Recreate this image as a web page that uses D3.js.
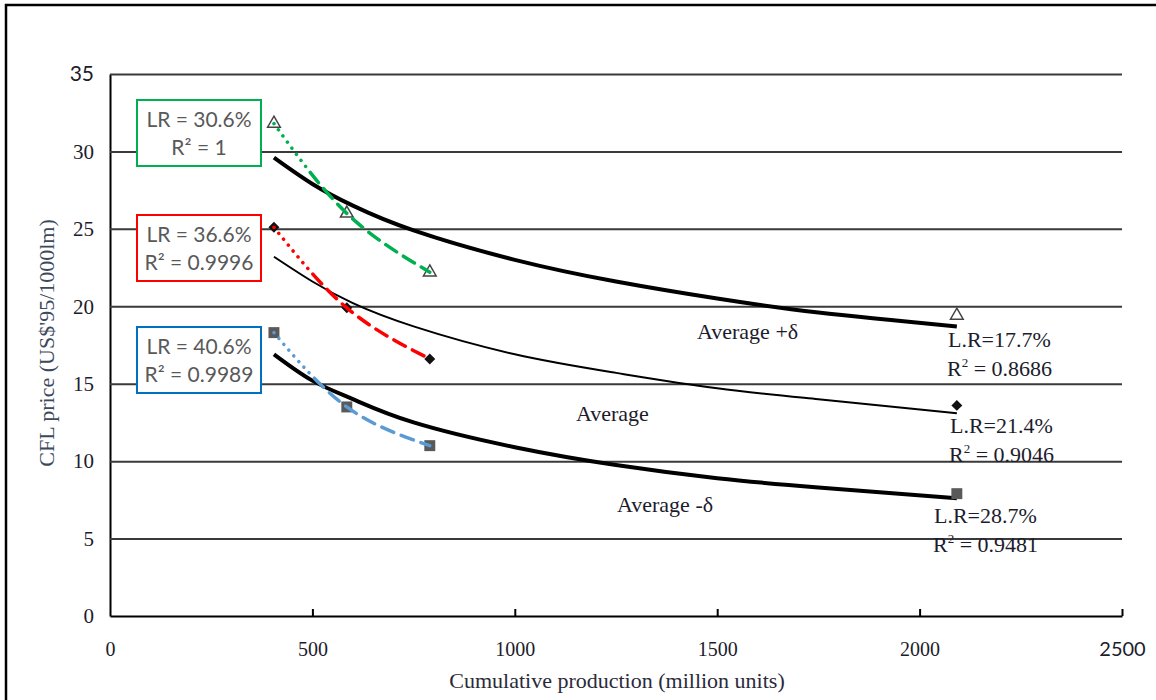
<!DOCTYPE html>
<html>
<head>
<meta charset="utf-8">
<script src="https://cdn.jsdelivr.net/npm/d3@7"></script>
<style>
  body { margin: 0; background: #fff; }
</style>
</head>
<body>
<script>
// data
const prodX = [405, 585, 790, 2092];
const plusDelta = [31.8, 26.0, 22.2, 19.4];
const average = [25.1, 19.9, 16.6, 13.6];
const minusDelta = [18.3, 13.5, 11.0, 7.9];

// fitted experience curves
const fitX = [405, 500, 600, 750, 1000, 1250, 1500, 1750, 2092];
const fitPlus = [29.6, 27.9, 26.5, 24.9, 23.0, 21.6, 20.5, 19.6, 18.7];
const fitAvg = [23.2, 21.6, 20.2, 18.7, 16.9, 15.7, 14.7, 14.0, 13.1];
const fitMinus = [16.9, 15.2, 14.0, 12.5, 10.9, 9.75, 8.9, 8.3, 7.6];

const xTicks = [0, 500, 1000, 1500, 2000, 2500];
const yTicks = [0, 5, 10, 15, 20, 25, 30, 35];

const earlyLabels = [
  {lr: "LR = 30.6%", r2: "R\u00b2 = 1", color: "#00b050"},
  {lr: "LR = 36.6%", r2: "R\u00b2 = 0.9996", color: "#ff0000"},
  {lr: "LR = 40.6%", r2: "R\u00b2 = 0.9989", color: "#0070c0"}
];
const lineColors = ["#00b050", "#ff0000", "#5b9bd5"];
const fitLabels = [
  ["L.R=17.7%", "0.8686"],
  ["L.R=21.4%", "0.9046"],
  ["L.R=28.7%", "0.9481"]
];

var w = 1156, h = 700;
var serif = "'Liberation Serif', 'DejaVu Serif', serif";
var sans = "Lato, 'Open Sans', sans-serif";

var svg = d3.select("body").append("svg")
  .attr("width", w)
  .attr("height", h);

// outer frame
svg.append("rect")
  .attr("x", 6).attr("y", 5)
  .attr("width", w + 20).attr("height", h + 20)
  .attr("fill", "none").attr("stroke", "#000").attr("stroke-width", 2.5);

var xScale = d3.scaleLinear().domain([0, 2500]).range([110, 1122]);
var yScale = d3.scaleLinear().domain([0, 35]).range([616, 74]);

// y axis with gridlines
var yAxis = d3.axisLeft(yScale).tickValues(yTicks)
  .tickSizeInner(-(1122 - 110)).tickSizeOuter(0).tickPadding(16)
  .tickFormat(d3.format("d"));
var gy = svg.append("g")
  .attr("transform", "translate(110,0)")
  .call(yAxis);
gy.select(".domain").attr("stroke", "#000").attr("stroke-width", 2);
gy.selectAll(".tick line").attr("stroke", "#3a3a3a").attr("stroke-width", 2)
  .filter(d => d == 0).remove();
gy.selectAll(".tick text")
  .style("font-family", d => d == 35 ? sans : serif)
  .style("font-size", "21px")
  .attr("fill", "#1c1c2c");

// x axis
var xAxis = d3.axisBottom(xScale).tickValues(xTicks)
  .tickSizeInner(-7).tickSizeOuter(0).tickPadding(26)
  .tickFormat(d3.format("d"));
var gx = svg.append("g")
  .attr("transform", "translate(0,616)")
  .call(xAxis);
gx.select(".domain").attr("stroke", "#000").attr("stroke-width", 2);
gx.selectAll(".tick line").attr("stroke", "#000").attr("stroke-width", 2)
  .filter(d => d == 0).remove();
gx.selectAll(".tick text")
  .style("font-family", d => d == 2500 ? sans : serif)
  .style("font-size", "20px")
  .attr("fill", "#1c1c2c");

// axis titles
svg.append("text")
  .attr("x", 617).attr("y", 688)
  .attr("text-anchor", "middle")
  .style("font-family", serif)
  .style("font-size", "22px")
  .attr("fill", "#2a2a3a")
  .text("Cumulative production (million units)");

svg.append("text")
  .attr("transform", "translate(54,343) rotate(-90)")
  .attr("text-anchor", "middle")
  .style("font-family", serif)
  .style("font-size", "22px")
  .attr("fill", "#3c4a5c")
  .text("CFL price (US$'95/1000lm)");

// fitted black curves
var fitLine = d3.line()
  .x(d => xScale(d[0]))
  .y(d => yScale(d[1]))
  .curve(d3.curveNatural);

[[fitPlus, 4], [fitAvg, 2], [fitMinus, 4]].forEach(function(f) {
  svg.append("path")
    .datum(fitX.map((x, i) => [x, f[0][i]]))
    .attr("d", fitLine)
    .attr("fill", "none")
    .attr("stroke", "#000")
    .attr("stroke-width", f[1]);
});

// markers
var series = [plusDelta, average, minusDelta];

svg.selectAll(".tri")
  .data(prodX.map((x, i) => [x, plusDelta[i]]))
  .enter().append("path")
  .attr("transform", d => "translate(" + xScale(d[0]) + "," + yScale(d[1]) + ")")
  .attr("d", d3.symbol(d3.symbolTriangle, 70))
  .attr("fill", "#fff").attr("stroke", "#444").attr("stroke-width", 1.5);

svg.selectAll(".dia")
  .data(prodX.map((x, i) => [x, average[i]]))
  .enter().append("path")
  .attr("transform", d => "translate(" + xScale(d[0]) + "," + yScale(d[1]) + ") rotate(45)")
  .attr("d", d3.symbol(d3.symbolSquare, 60))
  .attr("fill", "#111");

svg.selectAll(".sq")
  .data(prodX.map((x, i) => [x, minusDelta[i]]))
  .enter().append("path")
  .attr("transform", d => "translate(" + xScale(d[0]) + "," + yScale(d[1]) + ")")
  .attr("d", d3.symbol(d3.symbolSquare, 120))
  .attr("fill", "#595959");

// early-stage coloured fits (first three points)
var earlyLine = d3.line()
  .x(d => xScale(d[0]))
  .y(d => yScale(d[1]))
  .curve(d3.curveNatural);

series.forEach(function(s, k) {
  var p = svg.append("path")
    .datum(prodX.slice(0, 3).map((x, i) => [x, s[i]]))
    .attr("d", earlyLine)
    .attr("fill", "none")
    .attr("stroke", lineColors[k])
    .attr("stroke-width", 3.5)
    .attr("stroke-linecap", "round");
  var len = p.node().getTotalLength();
  var dash = [], run = 0;
  while (run < 55) { dash.push(0.1, 7.5); run += 7.6; }
  while (run < len + 20) { dash.push(13, 8); run += 21; }
  p.attr("stroke-dasharray", dash.join(","));
});

// boxed LR labels
var boxY = [100, 215, 327];
earlyLabels.forEach(function(b, i) {
  var g = svg.append("g").attr("transform", "translate(137," + boxY[i] + ")");
  g.append("rect")
    .attr("width", 124).attr("height", 66)
    .attr("fill", "#fff")
    .attr("stroke", b.color).attr("stroke-width", 2);
  g.selectAll("text")
    .data([b.lr, b.r2])
    .enter().append("text")
    .attr("x", 62).attr("y", (d, j) => 27 + j * 28)
    .attr("text-anchor", "middle")
    .style("font-family", sans)
    .style("font-size", "21px")
    .attr("fill", "#595959")
    .text(d => d);
});

// curve names
var names = [["Average +\u03b4", 697, 339], ["Average", 576, 421], ["Average -\u03b4", 617, 512]];
names.forEach(function(n) {
  svg.append("text")
    .attr("x", n[1]).attr("y", n[2])
    .style("font-family", serif)
    .style("font-size", "22px")
    .attr("fill", "#1c1c2c")
    .text(n[0]);
});

// L.R / R2 labels at the right
var lblPos = [[948, 347], [950, 433], [934, 523]];
fitLabels.forEach(function(l, i) {
  var g = svg.append("g")
    .style("font-family", serif)
    .style("font-size", "22px")
    .attr("fill", "#1c1c2c");
  g.append("text")
    .attr("x", lblPos[i][0]).attr("y", lblPos[i][1])
    .text(l[0]);
  var t = g.append("text")
    .attr("x", lblPos[i][0] - 1).attr("y", lblPos[i][1] + 29);
  t.append("tspan").text("R");
  t.append("tspan").attr("dy", -9).style("font-size", "13px").text("2");
  t.append("tspan").attr("dy", 9).text(" = " + l[1]);
});
</script>
</body>
</html>
